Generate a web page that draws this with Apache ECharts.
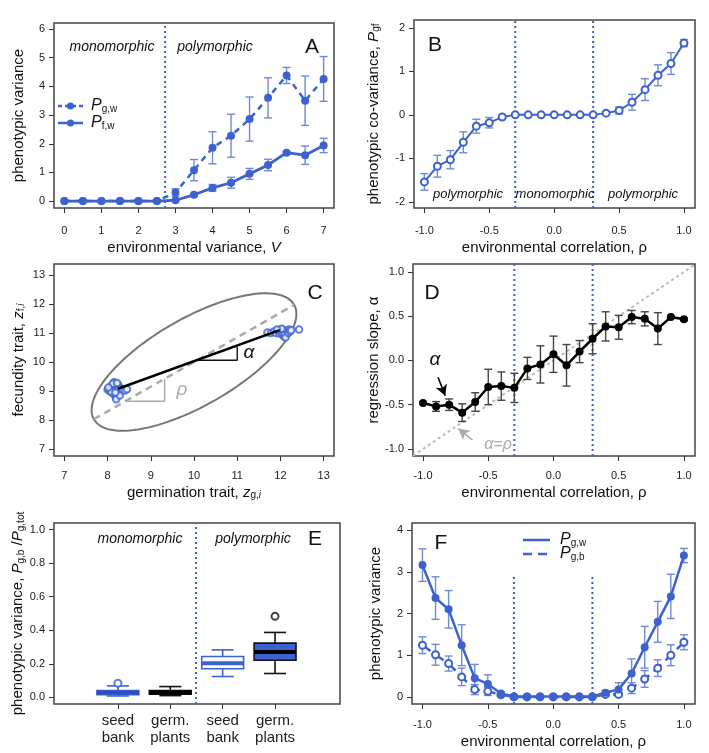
<!DOCTYPE html>
<html>
<head>
<meta charset="utf-8">
<script src="https://cdn.jsdelivr.net/npm/echarts@6/dist/echarts.min.js"></script>
<style>
  html, body { margin: 0; padding: 0; background: #fff; }
  #chart { width: 709px; height: 753px; }
</style>
</head>
<body>
<div id="chart"></div>
<script>
// ---- data ----
const varX = [0, 0.5, 1, 1.5, 2, 2.5, 3, 3.5, 4, 4.5, 5, 5.5, 6, 6.5, 7]
const aPgw = [0, 0, 0, 0, 0, 0, 0.3, 1.08, 1.86, 2.28, 2.86, 3.6, 4.38, 3.5, 4.26]
const aPgwErr = [0, 0, 0, 0, 0, 0, 0.13, 0.37, 0.56, 0.75, 0.77, 0.7, 0.28, 0.86, 0.78]
const aPfw = [0, 0, 0, 0, 0, 0, 0.03, 0.22, 0.46, 0.64, 0.95, 1.26, 1.69, 1.6, 1.94]
const aPfwErr = [0, 0, 0, 0, 0, 0, 0.02, 0.04, 0.12, 0.19, 0.19, 0.2, 0.04, 0.32, 0.25]

const rhoX = [-1, -0.9, -0.8, -0.7, -0.6, -0.5, -0.4, -0.3, -0.2, -0.1, 0, 0.1, 0.2, 0.3, 0.4, 0.5, 0.6, 0.7, 0.8, 0.9, 1]
const bPgf = [-1.54, -1.18, -1.03, -0.63, -0.26, -0.18, -0.05, 0, 0, 0, 0, 0, 0, 0, 0.04, 0.1, 0.29, 0.58, 0.91, 1.18, 1.65]
const bPgfErr = [0.19, 0.25, 0.21, 0.24, 0.16, 0.12, 0.02, 0, 0, 0, 0, 0, 0, 0, 0.03, 0.08, 0.18, 0.25, 0.24, 0.25, 0.08]

const dAlpha = [-0.48, -0.52, -0.5, -0.59, -0.47, -0.3, -0.29, -0.31, -0.09, -0.045, 0.07, -0.055, 0.1, 0.245, 0.385, 0.375, 0.49, 0.47, 0.36, 0.49, 0.465]
const dAlphaErr = [0.015, 0.055, 0.065, 0.1, 0.105, 0.2, 0.16, 0.165, 0.125, 0.21, 0.205, 0.235, 0.125, 0.17, 0.165, 0.135, 0.075, 0.08, 0.18, 0.01, 0.015]

const fPgw = [3.16, 2.37, 2.1, 1.24, 0.45, 0.31, 0.08, 0.01, 0.01, 0.01, 0.01, 0.01, 0.01, 0.01, 0.1, 0.18, 0.56, 1.19, 1.8, 2.41, 3.39]
const fPgwErr = [0.39, 0.51, 0.45, 0.49, 0.33, 0.22, 0.04, 0, 0, 0, 0, 0, 0, 0, 0.05, 0.16, 0.35, 0.5, 0.49, 0.53, 0.17]
const fPgb = [1.24, 1.01, 0.8, 0.48, 0.175, 0.135, 0.05, 0, 0, 0, 0, 0, 0, 0, 0.06, 0.06, 0.21, 0.43, 0.69, 1.0, 1.31]
const fPgbErr = [0.2, 0.25, 0.18, 0.21, 0.12, 0.1, 0.03, 0, 0, 0, 0, 0, 0, 0, 0.03, 0.04, 0.13, 0.2, 0.2, 0.25, 0.18]

// panel C
const clusterLow = [[8.0, 9.05], [8.05, 9.1], [8.05, 9.0], [8.1, 9.2], [8.1, 9.05], [8.1, 8.95], [8.15, 9.3], [8.15, 9.15],
  [8.15, 9.0], [8.15, 8.88], [8.2, 9.1], [8.2, 9.0], [8.2, 8.8], [8.2, 8.72], [8.25, 9.2], [8.25, 9.05], [8.25, 8.92],
  [8.3, 9.1], [8.3, 8.98], [8.12, 9.25], [8.22, 9.28], [8.08, 8.98], [8.28, 8.85], [8.35, 9.05], [8.4, 9.02],
  [8.45, 9.06], [8.18, 8.95], [8.02, 9.12]]
const clusterHigh = [[11.7, 11.02], [11.78, 11.0], [11.85, 11.05], [11.9, 11.0], [11.95, 11.08], [11.98, 10.98], [12.0, 11.1],
  [12.02, 11.03], [12.05, 10.95], [12.05, 11.12], [12.08, 10.88], [12.1, 11.05], [12.1, 10.98], [12.12, 10.85],
  [12.15, 11.08], [12.18, 11.0], [12.2, 11.12], [12.22, 11.05], [12.25, 11.1], [12.03, 11.15], [11.92, 11.12], [12.43, 11.12]]
const ellipseCenter = [10, 10]
const ellipseSd = 2.37
const ellipseRho = 0.7
const dashSlope = 0.85
const regLine = [[8.24, 9.08], [11.98, 11.1]]
const alphaTri = [[10.05, 10.06], [11.0, 10.06], [11.0, 10.52]]
const rhoTri = [[8.43, 8.65], [9.32, 8.65], [9.32, 9.43]]

// panel E
const boxPos = [1, 2, 3, 4]
const boxLabels = ['seed\nbank', 'germ.\nplants', 'seed\nbank', 'germ.\nplants']
const boxStats = [[0.008, 0.016, 0.028, 0.04, 0.068], [0.01, 0.018, 0.028, 0.04, 0.064],
  [0.124, 0.17, 0.203, 0.243, 0.283], [0.142, 0.221, 0.271, 0.323, 0.387]]
const boxOutliers = [[1, 0.084], [4, 0.483]]

// tick labels
const ticksA_x = [0, 1, 2, 3, 4, 5, 6, 7]
const ticksA_y = [0, 1, 2, 3, 4, 5, 6]
const ticksRho = [-1, -0.5, 0, 0.5, 1]
const ticksB_y = [-2, -1, 0, 1, 2]
const ticksC = [7, 8, 9, 10, 11, 12, 13]
const ticksE_y = [0, 0.2, 0.4, 0.6, 0.8, 1.0]
const ticksF_y = [0, 1, 2, 3, 4]

// ---- styling ----
const FONT = 'Liberation Sans, Arial, Helvetica, sans-serif'
const BLUE = '#3d62cf'
const ERR = '#6f8ad9'
const rich = {
  it: { fontStyle: 'italic', fontSize: 15, fontFamily: FONT, color: '#111' },
  sub: { fontSize: 10, fontFamily: FONT, color: '#111', verticalAlign: 'bottom', lineHeight: 8 },
  subit: { fontSize: 10, fontStyle: 'italic', fontFamily: FONT, color: '#111', verticalAlign: 'bottom', lineHeight: 8 }
}

const grids = [
  [54, 23, 280, 185],
  [414, 20, 281, 188],
  [54, 264, 280, 192],
  [413, 264, 282, 192],
  [54, 523, 286, 181],
  [412, 523, 283, 181]
]

function fmt1(v) { return v.toFixed(1) }
function fmt0(v) { return String(v) }

function axis(g, min, max, ticks, formatter, name, gap, margin, labelSize) {
  return {
    type: 'value', gridIndex: g, min, max,
    splitLine: { show: false },
    axisLine: { show: false, onZero: false },
    axisTick: { show: true, length: 5, lineStyle: { color: '#333', width: 1 }, customValues: ticks },
    axisLabel: { customValues: ticks, formatter, color: '#222', fontSize: labelSize || 11, fontFamily: FONT, margin, lineHeight: 17 },
    name, nameLocation: 'middle', nameGap: gap,
    nameTextStyle: { fontSize: 15, fontFamily: FONT, color: '#111', rich }
  }
}

function pts(xs, ys) { return xs.map((x, i) => [x, ys[i]]) }

function lineSeries(g, data, color, width, dash, symbol, size, z) {
  return {
    type: 'line', xAxisIndex: g, yAxisIndex: g, data, silent: true,
    symbol: symbol || 'none', symbolSize: size || 0, showSymbol: !!symbol,
    lineStyle: { color, width, type: dash || 'solid' },
    itemStyle: { color, borderColor: color, borderWidth: symbol === 'emptyCircle' ? 2 : 0 },
    z: z || 4
  }
}

function errSeries(g, xs, ys, es, color, width) {
  const data = []
  xs.forEach((x, i) => { if (es[i] > 0) data.push([x, ys[i] - es[i], ys[i] + es[i]]) })
  return {
    type: 'custom', xAxisIndex: g, yAxisIndex: g, data, silent: true, z: 3,
    encode: { x: 0, y: [1, 2] },
    renderItem(params, api) {
      const x = api.value(0)
      const lo = api.coord([x, api.value(1)])
      const hi = api.coord([x, api.value(2)])
      const st = { stroke: color, lineWidth: width }
      return {
        type: 'group', children: [
          { type: 'line', shape: { x1: lo[0], y1: lo[1], x2: hi[0], y2: hi[1] }, style: st },
          { type: 'line', shape: { x1: lo[0] - 4, y1: lo[1], x2: lo[0] + 4, y2: lo[1] }, style: st },
          { type: 'line', shape: { x1: hi[0] - 4, y1: hi[1], x2: hi[0] + 4, y2: hi[1] }, style: st }
        ]
      }
    }
  }
}

function vDotted(g, x, y0, y1) {
  return lineSeries(g, [[x, y0], [x, y1]], BLUE, 2, [2, 3], null, 0, 2)
}

// ellipse from covariance parameters
const ellipse = []
for (let k = 0; k <= 120; k++) {
  const t = 2 * Math.PI * k / 120
  ellipse.push([
    ellipseCenter[0] + ellipseSd * Math.cos(t),
    ellipseCenter[1] + ellipseSd * (ellipseRho * Math.cos(t) + Math.sqrt(1 - ellipseRho * ellipseRho) * Math.sin(t))
  ])
}
const dashHalf = ellipseSd * Math.sqrt((1 - ellipseRho * ellipseRho) / (1 - 2 * ellipseRho * dashSlope + dashSlope * dashSlope))
const dashLine = [[ellipseCenter[0] - dashHalf, ellipseCenter[1] - dashHalf * dashSlope], [ellipseCenter[0] + dashHalf, ellipseCenter[1] + dashHalf * dashSlope]]

// box styles
const boxFill = [BLUE, '#111', '#fff', BLUE]
const boxStroke = [BLUE, '#111', BLUE, '#111']
const boxMed = ['#2c4fbf', '#000', BLUE, '#000']

const boxSeries = {
  type: 'custom', xAxisIndex: 4, yAxisIndex: 4, silent: true, z: 4,
  data: boxPos.map((p, i) => [p].concat(boxStats[i])),
  encode: { x: 0, y: [1, 5] },
  renderItem(params, api) {
    const i = params.dataIndex
    const x = api.value(0)
    const c = api.coord([x, api.value(3)])
    const yLow = api.coord([x, api.value(1)])[1]
    const yQ1 = api.coord([x, api.value(2)])[1]
    const yQ3 = api.coord([x, api.value(4)])[1]
    const yHigh = api.coord([x, api.value(5)])[1]
    const hw = api.size([0.8, 0])[0] / 2
    const cap = api.size([0.42, 0])[0] / 2
    const st = { stroke: boxStroke[i], lineWidth: 1.6 }
    return {
      type: 'group', children: [
        { type: 'line', shape: { x1: c[0], y1: yQ3, x2: c[0], y2: yHigh }, style: st },
        { type: 'line', shape: { x1: c[0], y1: yQ1, x2: c[0], y2: yLow }, style: st },
        { type: 'line', shape: { x1: c[0] - cap, y1: yHigh, x2: c[0] + cap, y2: yHigh }, style: st },
        { type: 'line', shape: { x1: c[0] - cap, y1: yLow, x2: c[0] + cap, y2: yLow }, style: st },
        { type: 'rect', shape: { x: c[0] - hw, y: yQ3, width: hw * 2, height: yQ1 - yQ3 }, style: { fill: boxFill[i], stroke: boxStroke[i], lineWidth: 1.6 } },
        { type: 'line', shape: { x1: c[0] - hw, y1: c[1], x2: c[0] + hw, y2: c[1] }, style: { stroke: boxMed[i], lineWidth: 4 } }
      ]
    }
  }
}

function txt(x, y, text, size, extra) {
  return {
    type: 'text', x, y, z: 100, silent: true,
    style: Object.assign({
      text, fontSize: size, fontFamily: FONT, fill: '#111',
      textAlign: 'center', align: 'center', textVerticalAlign: 'middle', verticalAlign: 'middle'
    }, extra || {})
  }
}
const legRich = {
  it: { fontStyle: 'italic', fontSize: 16, fontFamily: FONT, color: '#111' },
  sub: { fontSize: 10, fontFamily: FONT, color: '#111', verticalAlign: 'bottom', lineHeight: 8 }
}

const chart = echarts.init(document.getElementById('chart'), null, { renderer: 'canvas' })

chart.setOption({
  animation: false,
  backgroundColor: '#fff',
  grid: grids.map(g => ({ left: g[0], top: g[1], width: g[2], height: g[3], show: true, borderColor: '#444', borderWidth: 1.5, backgroundColor: 'transparent' })),
  xAxis: [
    axis(0, -0.28, 7.28, ticksA_x, fmt0, 'environmental variance, {it|V}', 29, 14),
    axis(1, -1.08, 1.085, ticksRho, fmt1, 'environmental correlation, ρ', 29, 14),
    axis(2, 6.76, 13.24, ticksC, fmt0, 'germination trait, {it|z}{sub|g,}{subit|i}', 23, 11),
    axis(3, -1.077, 1.085, ticksRho, fmt1, 'environmental correlation, ρ', 25, 11),
    axis(4, -0.22, 5.24, boxPos, v => boxLabels[v - 1], '', 0, 8, 15),
    axis(5, -1.08, 1.085, ticksRho, fmt1, 'environmental correlation, ρ', 25, 12)
  ],
  yAxis: [
    axis(0, -0.24, 6.21, ticksA_y, fmt0, 'phenotypic variance', 28, 9),
    axis(1, -2.14, 2.18, ticksB_y, fmt0, 'phenotypic co-variance, {it|P}{sub|gf}', 33, 9),
    axis(2, 6.76, 13.38, ticksC, fmt0, 'fecundity trait, {it|z}{sub|f,}{subit|i}', 28, 9),
    axis(3, -1.08, 1.09, ticksRho, fmt1, 'regression slope, α', 32, 9),
    axis(4, -0.04, 1.04, ticksE_y, fmt1, 'phenotypic variance, {it|P}{sub|g,b} /{it|P}{sub|g,tot}', 28, 9),
    axis(5, -0.17, 4.17, ticksF_y, fmt0, 'phenotypic variance', 29, 9)
  ],
  series: [
    // A
    vDotted(0, 2.72, -0.24, 6.21),
    errSeries(0, varX, aPgw, aPgwErr, ERR, 1.4),
    lineSeries(0, pts(varX, aPgw), BLUE, 2.5, [6, 5], 'circle', 8),
    errSeries(0, varX, aPfw, aPfwErr, ERR, 1.4),
    lineSeries(0, pts(varX, aPfw), BLUE, 2.8, 'solid', 'circle', 8),
    // B
    vDotted(1, -0.3, -2.14, 2.18),
    vDotted(1, 0.3, -2.14, 2.18),
    errSeries(1, rhoX, bPgf, bPgfErr, ERR, 1.4),
    lineSeries(1, pts(rhoX, bPgf), BLUE, 2, 'solid', 'emptyCircle', 7),
    // C
    lineSeries(2, ellipse, '#777', 2, 'solid', null, 0, 2),
    lineSeries(2, dashLine, '#aaa', 2.5, [7, 5], null, 0, 2),
    lineSeries(2, rhoTri, '#aaa', 1.4, 'solid', null, 0, 2),
    lineSeries(2, alphaTri, '#111', 1.4, 'solid', null, 0, 3),
    {
      type: 'scatter', xAxisIndex: 2, yAxisIndex: 2, data: clusterLow.concat(clusterHigh), silent: true,
      symbol: 'emptyCircle', symbolSize: 6.5, itemStyle: { color: BLUE, borderColor: BLUE, borderWidth: 1.8 }, z: 4
    },
    lineSeries(2, regLine, '#000', 2.6, 'solid', null, 0, 5),
    // D
    lineSeries(3, [[-1.077, -1.077], [1.085, 1.085]], '#bbb', 2, [3, 3], null, 0, 2),
    vDotted(3, -0.3, -1.08, 1.09),
    vDotted(3, 0.3, -1.08, 1.09),
    errSeries(3, rhoX, dAlpha, dAlphaErr, '#444', 1.4),
    Object.assign(lineSeries(3, pts(rhoX, dAlpha), '#000', 2.5, 'solid', 'circle', 8), {
      markLine: {
        silent: true, symbol: ['none', 'arrow'], symbolSize: [9, 11], label: { show: false },
        lineStyle: { type: 'solid', width: 1.6 },
        data: [
          [{ coord: [-0.885, -0.19], lineStyle: { color: '#000' }, itemStyle: { color: '#000' } }, { coord: [-0.83, -0.4], lineStyle: { color: '#000' }, itemStyle: { color: '#000' } }],
          [{ coord: [-0.62, -0.9], lineStyle: { color: '#aaa' }, itemStyle: { color: '#aaa' } }, { coord: [-0.73, -0.77], lineStyle: { color: '#aaa' }, itemStyle: { color: '#aaa' } }]
        ]
      }
    }),
    // E
    vDotted(4, 2.49, -0.04, 1.04),
    boxSeries,
    {
      type: 'scatter', xAxisIndex: 4, yAxisIndex: 4, silent: true, symbol: 'emptyCircle', symbolSize: 7, z: 5,
      data: [
        { value: boxOutliers[0], itemStyle: { color: BLUE, borderColor: BLUE, borderWidth: 1.6 } },
        { value: boxOutliers[1], itemStyle: { color: '#111', borderColor: '#111', borderWidth: 1.6 } }
      ]
    },
    // F
    vDotted(5, -0.3, -0.17, 2.92),
    vDotted(5, 0.3, -0.17, 2.92),
    errSeries(5, rhoX, fPgb, fPgbErr, ERR, 1.4),
    lineSeries(5, pts(rhoX, fPgb), BLUE, 2.5, [10, 6], 'emptyCircle', 7),
    errSeries(5, rhoX, fPgw, fPgwErr, ERR, 1.4),
    lineSeries(5, pts(rhoX, fPgw), BLUE, 2.5, 'solid', 'circle', 8)
  ],
  graphic: [
    // panel letters
    txt(312, 47, 'A', 21), txt(435, 45, 'B', 21), txt(315, 293, 'C', 21),
    txt(432, 293, 'D', 21), txt(315, 539, 'E', 21), txt(441, 543, 'F', 21),
    // regime labels
    txt(112, 47, 'monomorphic', 14, { fontStyle: 'italic' }),
    txt(215, 47, 'polymorphic', 14, { fontStyle: 'italic' }),
    txt(468, 194, 'polymorphic', 13, { fontStyle: 'italic' }),
    txt(555, 194, 'monomorphic', 13, { fontStyle: 'italic' }),
    txt(643, 194, 'polymorphic', 13, { fontStyle: 'italic' }),
    txt(140, 539, 'monomorphic', 14, { fontStyle: 'italic' }),
    txt(253, 539, 'polymorphic', 14, { fontStyle: 'italic' }),
    // C and D annotations
    txt(249, 353, 'α', 19, { fontStyle: 'italic' }),
    txt(182, 390, 'ρ', 19, { fontStyle: 'italic', fill: '#aaa' }),
    txt(435, 360, 'α', 19, { fontStyle: 'italic' }),
    txt(498, 445, 'α=ρ', 16, { fontStyle: 'italic', fill: '#aaa' }),
    // legend A
    { type: 'line', z: 100, shape: { x1: 58, y1: 106, x2: 83, y2: 106 }, style: { stroke: BLUE, lineWidth: 2.5, lineDash: [4, 3] } },
    { type: 'circle', z: 100, shape: { cx: 70.5, cy: 106, r: 3.5 }, style: { fill: BLUE } },
    { type: 'line', z: 100, shape: { x1: 58, y1: 123, x2: 83, y2: 123 }, style: { stroke: BLUE, lineWidth: 2.5 } },
    { type: 'circle', z: 100, shape: { cx: 70.5, cy: 123, r: 3.5 }, style: { fill: BLUE } },
    txt(91, 106, '{it|P}{sub|g,w}', 16, { textAlign: 'left', align: 'left', rich: legRich }),
    txt(91, 123, '{it|P}{sub|f,w}', 16, { textAlign: 'left', align: 'left', rich: legRich }),
    // legend F
    { type: 'line', z: 100, shape: { x1: 523, y1: 540, x2: 550, y2: 540 }, style: { stroke: BLUE, lineWidth: 2.5 } },
    { type: 'line', z: 100, shape: { x1: 523, y1: 554, x2: 550, y2: 554 }, style: { stroke: BLUE, lineWidth: 2.5, lineDash: [9, 6] } },
    txt(560, 540, '{it|P}{sub|g,w}', 16, { textAlign: 'left', align: 'left', rich: legRich }),
    txt(560, 554, '{it|P}{sub|g,b}', 16, { textAlign: 'left', align: 'left', rich: legRich })
  ]
})
</script>
</body>
</html>
